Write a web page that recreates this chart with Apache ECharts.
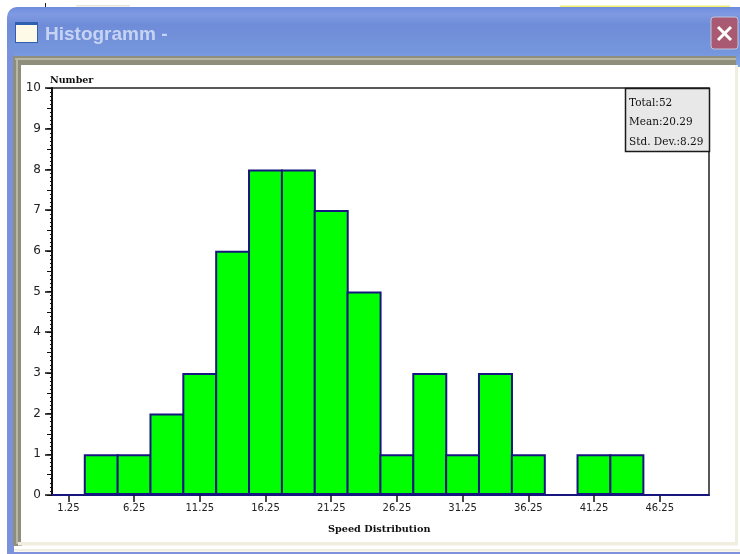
<!DOCTYPE html>
<html>
<head>
<meta charset="utf-8">
<script src="https://cdn.jsdelivr.net/npm/echarts@6/dist/echarts.min.js"></script>
<style>html,body{margin:0;padding:0;background:#fff}#c{width:740px;height:554px}</style>
</head>
<body>
<div id="c"></div>
<script>
const binCentres = ['1.25','3.75','6.25','8.75','11.25','13.75','16.25','18.75','21.25','23.75','26.25','28.75','31.25','33.75','36.25','38.75','41.25','43.75','46.25','48.75'];
const counts = [0,1,1,2,3,6,8,8,7,5,1,3,1,3,1,0,1,1,0,0];
const windowTitle = 'Histogramm -';
const yAxisName = 'Number';
const xAxisName = 'Speed Distribution';
const statLines = ['Total:52','Mean:20.29','Std. Dev.:8.29'];

const serif = '"DejaVu Serif"';
const sans = '"DejaVu Sans"';
const chart = echarts.init(document.getElementById('c'), null, {renderer:'canvas'});
const rect = (x,y,w,h,fill,z,extra) => Object.assign({type:'rect',shape:{x,y,width:w,height:h},style:{fill},z:z||-10,silent:true},extra||{});
const txt = (x,y,t,font,fill,z) => ({type:'text',x,y,z:z||20,silent:true,style:{text:t,font,fill,textVerticalAlign:'middle'}});

const titleGrad = new echarts.graphic.LinearGradient(0,0,0,1,[
  {offset:0,color:'#6e8bdc'},{offset:0.12,color:'#7f9ae2'},{offset:0.3,color:'#6f8cd8'},
  {offset:0.75,color:'#7596dc'},{offset:1,color:'#7fa4e6'}]);

const chrome = [
  rect(0,0,740,554,'#ffffff',-30),
  rect(560,5.5,170,1.5,'#f2ee70',-29),
  rect(76,5,54,1.5,'#e6e6d6',-29),
  rect(45,3,1,4,'#222222',-29),
  {type:'rect',shape:{x:7,y:7,width:733,height:60,r:[10,0,0,0]},style:{fill:titleGrad},z:-28,silent:true},
  rect(7,50,7,504,'#7a92dd',-28),
  rect(7,552,733,2,'#7f90dc',-28),
  // bevel frame
  rect(13,56,723,9,'#8f8d7c',-27),
  rect(15,58,721,2,'#b8b6a4',-26),
  rect(13,56,9,490,'#8f8d7c',-27),
  rect(16,58,2,486,'#b8b6a4',-26),
  rect(21,65,714,477,'#ffffff',-25),
  rect(735,65,3,480,'#f0eee0',-25),
  rect(18,542,720,3.5,'#f0eee0',-25),
  rect(14,549,726,2.5,'#f0eee0',-25),
  // window icon
  rect(15,22,23,21,'#2f5fb0',-20),
  rect(16,25,21,17,'#fdfbe8',-19),
  // close button
  {type:'rect',shape:{x:711,y:17,width:27,height:32,r:3},style:{fill:'#a95a72',stroke:'#c0c4dc',lineWidth:1},z:-20,silent:true},
  {type:'line',shape:{x1:718,y1:27,x2:731,y2:40},style:{stroke:'#ffffff',lineWidth:3},z:-19,silent:true},
  {type:'line',shape:{x1:731,y1:27,x2:718,y2:40},style:{stroke:'#ffffff',lineWidth:3},z:-19,silent:true},
  txt(45,35,windowTitle,'bold 19px "Liberation Sans"','#c6d3f3',-19),
  // text labels
  txt(50,81,yAxisName,'bold 9.5px '+serif,'#111111'),
  txt(328,529,xAxisName,'bold 9.7px '+serif,'#111111'),
  // stats box
  {type:'rect',shape:{x:625.5,y:88.5,width:84,height:63},style:{fill:'#e8e8e8',stroke:'#1a1a1a',lineWidth:1.5},z:20,silent:true},
  txt(629,103,statLines[0],'10.5px '+serif,'#111111',21),
  txt(629,122.5,statLines[1],'10.5px '+serif,'#111111',21),
  txt(629,142,statLines[2],'10.5px '+serif,'#111111',21)
];

chart.setOption({
  animation:false,
  backgroundColor:'#ffffff',
  graphic:{elements:chrome},
  grid:{left:52,top:88,width:657,height:407,show:true,borderColor:'#222222',borderWidth:1.5,backgroundColor:'#ffffff'},
  xAxis:{
    type:'category',data:binCentres,
    axisLine:{lineStyle:{color:'#16167e',width:2}},
    axisTick:{show:true,alignWithLabel:true,interval:1,length:7,lineStyle:{color:'#111111',width:1.5}},
    axisLabel:{interval:1,margin:8,color:'#222222',fontFamily:sans,fontSize:10},
    splitLine:{show:false}
  },
  yAxis:[
    {type:'value',min:0,max:10,interval:1,
     axisLine:{show:true,lineStyle:{color:'#111111',width:2}},
     axisTick:{show:true,length:7,lineStyle:{color:'#111111',width:1.5}},
     minorTick:{show:true,splitNumber:10,length:2,lineStyle:{color:'#111111',width:1}},
     axisLabel:{margin:11,color:'#222222',fontFamily:sans,fontSize:12},
     splitLine:{show:false}},
    {type:'value',min:0,max:10,interval:0.5,position:'left',
     axisLine:{show:false},
     axisTick:{show:true,length:5,lineStyle:{color:'#111111',width:1}},
     axisLabel:{show:false},splitLine:{show:false}}
  ],
  series:[{
    type:'bar',data:counts,barWidth:35,
    itemStyle:{color:'#00ff00',borderColor:'#16167e',borderWidth:2,borderJoin:'miter'},
    silent:true
  }]
});
</script>
</body>
</html>
